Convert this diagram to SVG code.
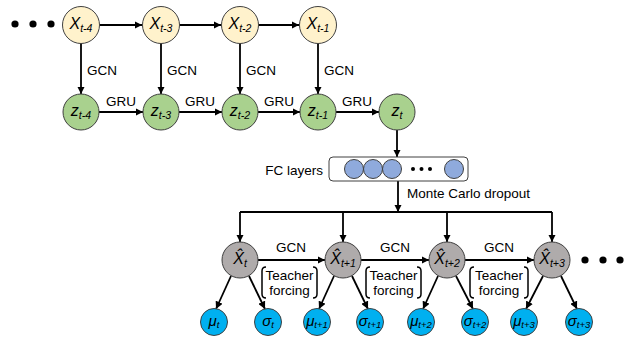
<svg xmlns="http://www.w3.org/2000/svg" width="631" height="343" viewBox="0 0 631 343">
<defs>
<marker id="ah" viewBox="0 0 10 10" refX="10" refY="5" markerWidth="7.5" markerHeight="7.5" markerUnits="userSpaceOnUse" orient="auto">
<path d="M0,0 L10,5 L0,10 Z" fill="#000"/>
</marker>
<style>
.x{fill:#FFF2CC;stroke:#404040;stroke-width:1}
.z{fill:#A9D18E;stroke:#404040;stroke-width:1}
.h{fill:#AFABAB;stroke:#404040;stroke-width:1}
.m{fill:#00B0F0;stroke:#404040;stroke-width:1}
.fc{fill:#8FAADC;stroke:#404040;stroke-width:1}
.a{stroke:#000;stroke-width:1.8;fill:none;marker-end:url(#ah)}
.l{stroke:#000;stroke-width:1.8;fill:none}
.br{stroke:#000;stroke-width:1.5;fill:none}
text{font-family:"Liberation Sans",Arial,sans-serif;fill:#000}
.t{font-size:13.5px}
.n{font-size:16px;font-style:italic;text-anchor:middle}
.s{font-size:10.5px;font-style:italic}
.ms{font-size:9.5px;font-style:italic}
.mn{font-size:15px;font-style:italic;text-anchor:middle}
</style>
</defs>

<g id="connectors">
<line class="a" x1="100" y1="25" x2="142" y2="25"/>
<line class="a" x1="180" y1="25" x2="221" y2="25"/>
<line class="a" x1="259" y1="25" x2="299" y2="25"/>
<line class="a" x1="81" y1="43" x2="81" y2="94"/>
<line class="a" x1="161" y1="43" x2="161" y2="94"/>
<line class="a" x1="240" y1="43" x2="240" y2="94"/>
<line class="a" x1="318" y1="43" x2="318" y2="94"/>
<line class="a" x1="99" y1="112" x2="143" y2="112"/>
<line class="a" x1="179" y1="112" x2="222" y2="112"/>
<line class="a" x1="258" y1="112" x2="300" y2="112"/>
<line class="a" x1="336" y1="112" x2="379" y2="112"/>
<line class="a" x1="397" y1="130" x2="397" y2="157"/>
<line class="a" x1="398" y1="181" x2="398" y2="212"/>
<line class="l" x1="240" y1="212" x2="552" y2="212"/>
<line class="a" x1="240" y1="212" x2="240" y2="242"/>
<line class="a" x1="343" y1="212" x2="343" y2="242"/>
<line class="a" x1="447" y1="212" x2="447" y2="242"/>
<line class="a" x1="552" y1="212" x2="552" y2="242"/>
<line class="a" x1="258" y1="260" x2="325" y2="260"/>
<line class="a" x1="361" y1="260" x2="429" y2="260"/>
<line class="a" x1="465" y1="260" x2="534" y2="260"/>
<line class="a" x1="231" y1="276" x2="216" y2="309"/>
<line class="a" x1="249" y1="276" x2="265" y2="309"/>
<line class="a" x1="334" y1="276" x2="319" y2="309"/>
<line class="a" x1="352" y1="276" x2="368" y2="309"/>
<line class="a" x1="438" y1="276" x2="423" y2="309"/>
<line class="a" x1="456" y1="276" x2="473" y2="309"/>
<line class="a" x1="543" y1="276" x2="526" y2="309"/>
<line class="a" x1="561" y1="276" x2="577" y2="309"/>
</g>

<g id="labels">
<text class="t" x="87" y="75">GCN</text>
<text class="t" x="167" y="75">GCN</text>
<text class="t" x="246" y="75">GCN</text>
<text class="t" x="324" y="75">GCN</text>
<text class="t" x="121" y="106" text-anchor="middle">GRU</text>
<text class="t" x="200" y="106" text-anchor="middle">GRU</text>
<text class="t" x="279" y="106" text-anchor="middle">GRU</text>
<text class="t" x="357" y="106" text-anchor="middle">GRU</text>
<text class="t" x="323" y="175" text-anchor="end">FC layers</text>
<text class="t" x="407" y="198">Monte Carlo dropout</text>
<text class="t" x="291" y="252" text-anchor="middle">GCN</text>
<text class="t" x="395" y="252" text-anchor="middle">GCN</text>
<text class="t" x="499" y="252" text-anchor="middle">GCN</text>
</g>

<g id="dots-left">
<circle cx="15" cy="24" r="3.6"/><circle cx="33" cy="24" r="3.6"/><circle cx="51" cy="24" r="3.6"/>
</g>
<g id="dots-right">
<circle cx="585" cy="260" r="3.6"/><circle cx="603" cy="260" r="3.6"/><circle cx="620" cy="260" r="3.6"/>
</g>

<g id="X_t-4"><circle class="x" cx="81" cy="25" r="18.5"/><text class="n" x="81" y="29">X<tspan class="s" dy="3">t-4</tspan></text></g>
<g id="X_t-3"><circle class="x" cx="161" cy="25" r="18.5"/><text class="n" x="161" y="29">X<tspan class="s" dy="3">t-3</tspan></text></g>
<g id="X_t-2"><circle class="x" cx="240" cy="25" r="18.5"/><text class="n" x="240" y="29">X<tspan class="s" dy="3">t-2</tspan></text></g>
<g id="X_t-1"><circle class="x" cx="318" cy="25" r="18.5"/><text class="n" x="318" y="29">X<tspan class="s" dy="3">t-1</tspan></text></g>

<g id="z_t-4"><circle class="z" cx="81" cy="112" r="18"/><text class="n" x="81" y="116">z<tspan class="s" dy="3">t-4</tspan></text></g>
<g id="z_t-3"><circle class="z" cx="161" cy="112" r="18"/><text class="n" x="161" y="116">z<tspan class="s" dy="3">t-3</tspan></text></g>
<g id="z_t-2"><circle class="z" cx="240" cy="112" r="18"/><text class="n" x="240" y="116">z<tspan class="s" dy="3">t-2</tspan></text></g>
<g id="z_t-1"><circle class="z" cx="318" cy="112" r="18"/><text class="n" x="318" y="116">z<tspan class="s" dy="3">t-1</tspan></text></g>
<g id="z_t"><circle class="z" cx="397" cy="112" r="18"/><text class="n" x="397" y="116">z<tspan class="s" dy="3">t</tspan></text></g>

<g id="fc-layers">
<rect x="329" y="157" width="139" height="24" rx="4" fill="#fff" stroke="#404040" stroke-width="1"/>
<circle class="fc" cx="354" cy="169" r="9.5"/>
<circle class="fc" cx="373" cy="169" r="9.5"/>
<circle class="fc" cx="392" cy="169" r="9.5"/>
<circle cx="413" cy="169" r="2"/><circle cx="421.5" cy="169" r="2"/><circle cx="430" cy="169" r="2"/>
<circle class="fc" cx="454" cy="169" r="9.5"/>
</g>

<g id="Xhat_t"><circle class="h" cx="240" cy="260" r="18"/><text class="n" x="240" y="264">X̂<tspan class="s" dy="3">t</tspan></text></g>
<g id="Xhat_t+1"><circle class="h" cx="343" cy="260" r="18"/><text class="n" x="343" y="264">X̂<tspan class="s" dy="3">t+1</tspan></text></g>
<g id="Xhat_t+2"><circle class="h" cx="447" cy="260" r="18"/><text class="n" x="447" y="264">X̂<tspan class="s" dy="3">t+2</tspan></text></g>
<g id="Xhat_t+3"><circle class="h" cx="552" cy="260" r="18"/><text class="n" x="552" y="264">X̂<tspan class="s" dy="3">t+3</tspan></text></g>

<g id="tf1"><path class="br" d="M266,267 Q262,267 262,271 L262,294 Q262,298 266,298 M313,267 Q317,267 317,271 L317,294 Q317,298 313,298"/><text class="t" x="289.5" y="280" text-anchor="middle">Teacher</text><text class="t" x="289.5" y="295" text-anchor="middle">forcing</text></g>
<g id="tf2"><path class="br" d="M370,267 Q366,267 366,271 L366,294 Q366,298 370,298 M417,267 Q421,267 421,271 L421,294 Q421,298 417,298"/><text class="t" x="393.5" y="280" text-anchor="middle">Teacher</text><text class="t" x="393.5" y="295" text-anchor="middle">forcing</text></g>
<g id="tf3"><path class="br" d="M474,267 Q470,267 470,271 L470,294 Q470,298 474,298 M524,267 Q528,267 528,271 L528,294 Q528,298 524,298"/><text class="t" x="499" y="280" text-anchor="middle">Teacher</text><text class="t" x="499" y="295" text-anchor="middle">forcing</text></g>

<g id="mu_t"><circle class="m" cx="214" cy="322" r="13.5"/><text class="mn" x="214" y="326">μ<tspan class="ms" dy="2">t</tspan></text></g>
<g id="sigma_t"><circle class="m" cx="268" cy="322" r="13.5"/><text class="mn" x="268" y="326">σ<tspan class="ms" dy="2">t</tspan></text></g>
<g id="mu_t+1"><circle class="m" cx="317" cy="322" r="13.5"/><text class="mn" x="317" y="326">μ<tspan class="ms" dy="2">t+1</tspan></text></g>
<g id="sigma_t+1"><circle class="m" cx="370" cy="322" r="13.5"/><text class="mn" x="370" y="326">σ<tspan class="ms" dy="2">t+1</tspan></text></g>
<g id="mu_t+2"><circle class="m" cx="421" cy="322" r="13.5"/><text class="mn" x="421" y="326">μ<tspan class="ms" dy="2">t+2</tspan></text></g>
<g id="sigma_t+2"><circle class="m" cx="475" cy="322" r="13.5"/><text class="mn" x="475" y="326">σ<tspan class="ms" dy="2">t+2</tspan></text></g>
<g id="mu_t+3"><circle class="m" cx="524" cy="322" r="13.5"/><text class="mn" x="524" y="326">μ<tspan class="ms" dy="2">t+3</tspan></text></g>
<g id="sigma_t+3"><circle class="m" cx="579" cy="322" r="13.5"/><text class="mn" x="579" y="326">σ<tspan class="ms" dy="2">t+3</tspan></text></g>
</svg>
